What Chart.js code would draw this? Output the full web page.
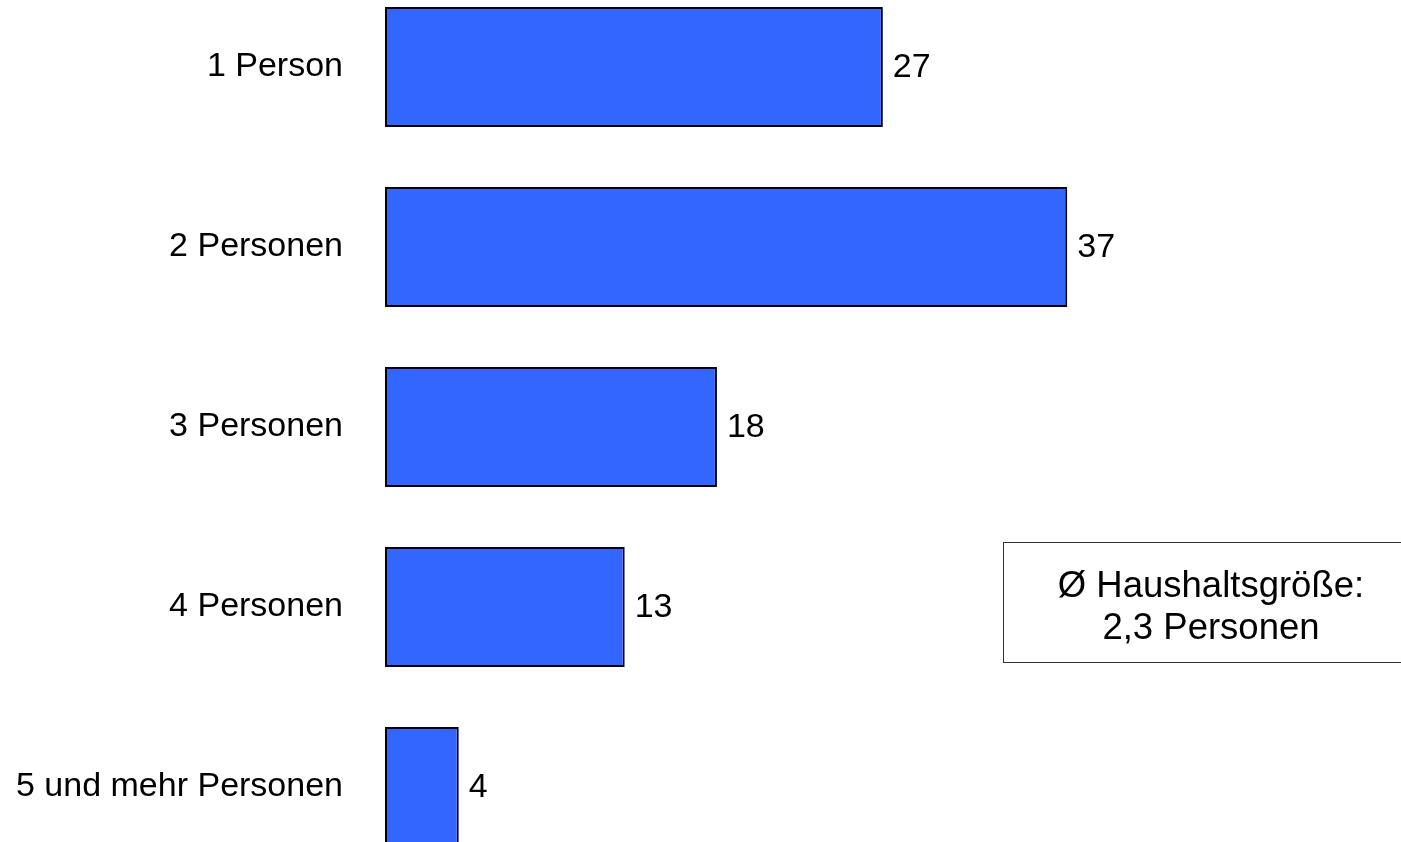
<!DOCTYPE html>
<html>
<head>
<meta charset="utf-8">
<script src="https://cdn.jsdelivr.net/npm/chart.js@4"></script>
<style>
  html, body { margin: 0; padding: 0; width: 1401px; height: 842px; overflow: hidden; background: #fff; }
  #haushalte { position: absolute; left: 0; top: -23px; }
  #note {
    position: absolute; left: 1003px; top: 542px; width: 414px; height: 119px;
    border: 1px solid #333; box-sizing: content-box;
    font-family: "Liberation Sans", Arial, sans-serif; font-size: 36.5px; line-height: 42px;
    color: #000; text-align: center; display: flex; flex-direction: column; justify-content: center;
  }
  #note div { position: relative; top: 3px; }
</style>
</head>
<body>
<canvas id="haushalte" width="1401" height="900"></canvas>
<div id="note"><div>Ø Haushaltsgröße:</div><div>2,3 Personen</div></div>
<script>
// Haushaltsgröße in Prozent
const categories = ['1 Person', '2 Personen', '3 Personen', '4 Personen', '5 und mehr Personen'];
const shares = [27, 37, 18, 13, 4];

const fontFamily = '"Liberation Sans", Arial, sans-serif';

// writes the value next to the end of each bar
const valueLabels = {
    id: 'valueLabels',
    afterDatasetsDraw(chart) {
        const ctx = chart.ctx;
        const meta = chart.getDatasetMeta(0);
        ctx.save();
        ctx.font = '34px ' + fontFamily;
        ctx.fillStyle = '#000';
        ctx.textAlign = 'left';
        ctx.textBaseline = 'middle';
        meta.data.forEach((bar, i) => {
            ctx.fillText(String(shares[i]), bar.x + 10, bar.y + 1);
        });
        ctx.restore();
    }
};

const ctx = document.getElementById('haushalte').getContext('2d');
const chart = new Chart(ctx, {
    type: 'bar',
    data: {
        labels: categories,
        datasets: [{
            data: shares,
            backgroundColor: '#3366FF',
            borderColor: '#000000',
            borderWidth: 2,
            borderSkipped: false,
            barPercentage: 0.667,
            categoryPercentage: 1
        }]
    },
    options: {
        indexAxis: 'y',
        responsive: false,
        animation: false,
        layout: { padding: 0 },
        scales: {
            x: {
                display: false,
                min: 0,
                max: 55.1
            },
            y: {
                grid: { display: false, drawTicks: false },
                border: { display: false },
                ticks: {
                    color: '#000',
                    padding: 42,
                    font: { size: 34, family: fontFamily }
                },
                afterFit: (scale) => {
                    // fixed label column, no extra room above/below the bands
                    scale.width = 385;
                    scale.paddingTop = 0;
                    scale.paddingBottom = 0;
                }
            }
        },
        plugins: {
            legend: { display: false },
            tooltip: { enabled: false }
        }
    },
    plugins: [valueLabels]
});
</script>
</body>
</html>
